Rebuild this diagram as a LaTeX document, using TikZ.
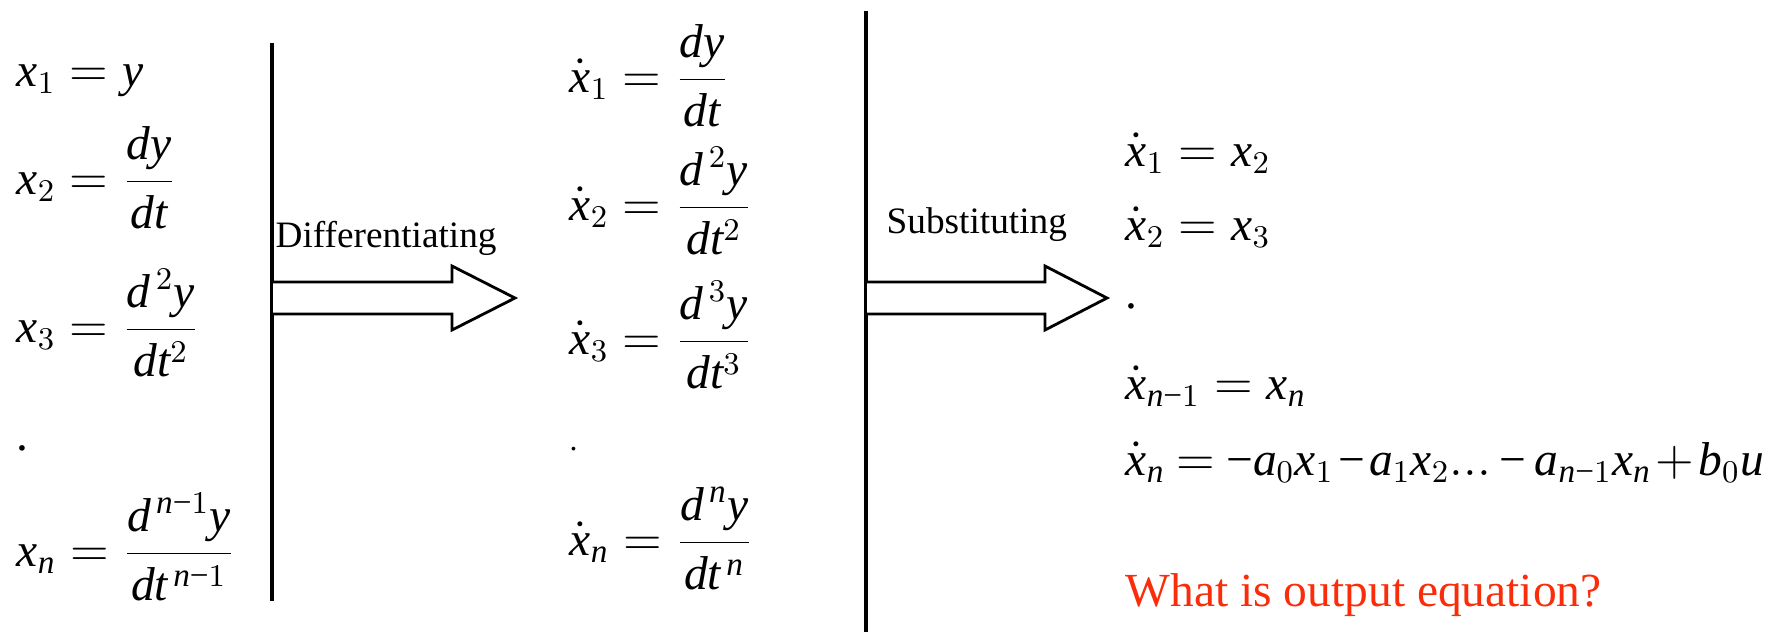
\documentclass[tikz,border=0pt]{standalone}
\usepackage{fontspec}
\setmainfont{Liberation Serif}
\newfontfamily\tnrfont[NFSSFamily=tnrx]{Liberation Serif}
\DeclareSymbolFont{tit}{TU}{tnrx}{m}{it}
\DeclareSymbolFont{trm}{TU}{tnrx}{m}{n}
\makeatletter
\count@=`a
\loop\ifnum\count@<`z
  \Umathcode\count@="7 \symtit \count@
  \advance\count@ by 1
\repeat
\Umathcode`z="7 \symtit `z
\count@=`0
\loop\ifnum\count@<`9
  \Umathcode\count@="7 \symtrm \count@
  \advance\count@ by 1
\repeat
\Umathcode`9="7 \symtrm `9
\Umathcode`\=="3 \symtrm `\=
\Umathcode`\+="2 \symtrm `\+
\Umathcode`\-="2 \symtrm "2212
\makeatother
\definecolor{qred}{RGB}{250,45,10}
\begin{document}
\begin{tikzpicture}[x=0.01cm,y=-0.01cm]
\tikzset{
  eq/.style={anchor=base west, inner sep=0pt, font=\tnrfont\fontsize{13.5}{16}\selectfont},
  lbl/.style={anchor=base west, inner sep=0pt, font=\tnrfont\fontsize{10.6}{13}\selectfont},
  sepline/.style={line width=1pt},
  blockarrow/.style={draw, line width=0.8pt, fill=white, line join=miter}
}
\useasboundingbox (0,0) rectangle (1785,632);
% left column
\node[eq] (l1) at (16,86) {$x_1 = y$};
\node[eq] (l2) at (16,194) {$\displaystyle x_2 = \frac{dy}{dt}$};
\node[eq] (l3) at (16,342) {$\displaystyle x_3 = \frac{d^{\,2}y}{dt^{2}}$};
\node[eq] (ld) at (16,450) {.};
\node[eq] (ln) at (16,566) {$\displaystyle x_n = \frac{d^{\,n-1}y}{dt^{\,n-1}}$};
% middle column
\node[eq] (m1) at (569,92) {$\displaystyle \dot{x}_1 = \frac{dy}{dt}$};
\node[eq] (m2) at (569,220) {$\displaystyle \dot{x}_2 = \frac{d^{\,2}y}{dt^{2}}$};
\node[eq] (m3) at (569,354) {$\displaystyle \dot{x}_3 = \frac{d^{\,3}y}{dt^{3}}$};
\node[eq, font=\tnrfont\fontsize{9}{11}\selectfont] (md) at (569,450) {.};
\node[eq] (mn) at (569,555) {$\displaystyle \dot{x}_n = \frac{d^{\,n}y}{dt^{\,n}}$};
% right column
\node[eq] (r1) at (1125,166) {$\dot{x}_1 = x_2$};
\node[eq] (r2) at (1125,240) {$\dot{x}_2 = x_3$};
\node[eq] (rd) at (1125,308) {.};
\node[eq] (r3) at (1125,399) {$\dot{x}_{n-1} = x_n$};
\node[eq] (rn) at (1125,475) {\medmuskip=1.5mu\thickmuskip=4mu$\dot{x}_n = -a_0x_1 - a_1x_2{.}{.}{.}\,{-}\,a_{n-1}x_n + b_0u$};
\node[eq, text=qred] (q) at (1125,606) {What is output equation?};
% separators
\coordinate (s1t) at (272,43);
\coordinate (s1b) at (272,601);
\coordinate (s2t) at (866,11);
\coordinate (s2b) at (866,632);
\draw[sepline] (s1t) -- (s1b);
\draw[sepline] (s2t) -- (s2b);
% arrows
\draw[blockarrow] (273,282) -- (452,282) -- (452,266) -- (515,298) -- (452,330) -- (452,314) -- (273,314);
\draw[blockarrow] (867,282) -- (1045,282) -- (1045,266) -- (1107,298) -- (1045,330) -- (1045,314) -- (867,314);
\node[lbl] (a1) at (275,247) {Differentiating};
\node[lbl] (a2) at (886,233) {Substituting};
\end{tikzpicture}
\end{document}
